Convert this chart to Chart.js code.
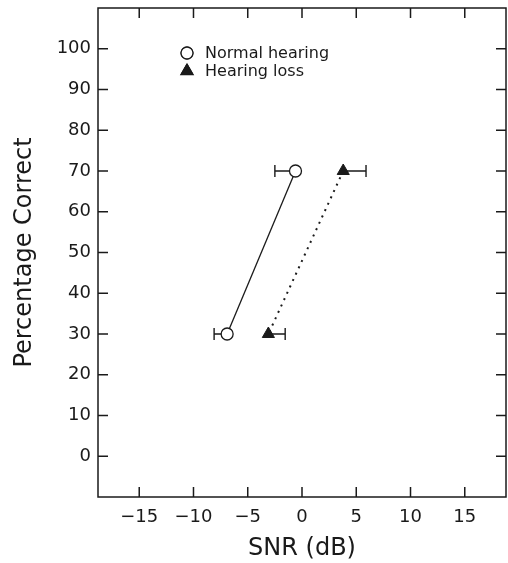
<!DOCTYPE html>
<html>
<head>
<meta charset="utf-8">
<script src="https://cdn.jsdelivr.net/npm/chart.js@4/dist/chart.umd.min.js"></script>
<style>
    html, body { margin: 0; padding: 0; background: #fff; }
    #chart { display: block; }
</style>
</head>
<body>
<canvas id="chart" width="508" height="563"></canvas>
<script>
    // values
    let seriesNames = ["Normal hearing", "Hearing loss"];
    let percentLevels = [70, 30];
    let normalSnr = [-0.6, -6.9];
    let lossSnr = [3.8, -3.1];
    // one-sided error bars: normal hearing goes left, hearing loss goes right
    let normalErrEnd = [-2.5, -8.1];
    let lossErrEnd = [5.9, -1.55];
    let xTicks = [-15, -10, -5, 0, 5, 10, 15];
    let yTicks = [0, 10, 20, 30, 40, 50, 60, 70, 80, 90, 100];

    let ink = "#1a1a1a";
    let fontFamily = "'DejaVu Sans', sans-serif";

    let toPoints = (xs, ys) => xs.map((x, i) => ({ x: x, y: ys[i] }));
    let minus = v => (v < 0 ? "\u2212" + Math.abs(v) : "" + v);

    // inward ticks on all four sides plus the frame
    let framePlugin = {
        id: "frame",
        afterDraw: chart => {
            let ctx = chart.ctx;
            let a = chart.chartArea;
            let len = 10;
            ctx.save();
            ctx.strokeStyle = ink;
            ctx.lineWidth = 1.5;
            ctx.beginPath();
            xTicks.forEach(v => {
                let px = chart.scales.x.getPixelForValue(v);
                ctx.moveTo(px, a.bottom); ctx.lineTo(px, a.bottom - len);
                ctx.moveTo(px, a.top); ctx.lineTo(px, a.top + len);
            });
            yTicks.forEach(v => {
                let py = chart.scales.y.getPixelForValue(v);
                ctx.moveTo(a.left, py); ctx.lineTo(a.left + len, py);
                ctx.moveTo(a.right, py); ctx.lineTo(a.right - len, py);
            });
            ctx.stroke();
            ctx.strokeRect(a.left, a.top, a.right - a.left, a.bottom - a.top);
            ctx.restore();
        }
    };

    let errorBarPlugin = {
        id: "errorBars",
        beforeDatasetsDraw: chart => {
            let ctx = chart.ctx;
            let xs = chart.scales.x, ys = chart.scales.y;
            let cap = 6;
            let draw = (centers, ends) => {
                centers.forEach((c, i) => {
                    let py = ys.getPixelForValue(percentLevels[i]);
                    let x0 = xs.getPixelForValue(c);
                    let x1 = xs.getPixelForValue(ends[i]);
                    ctx.moveTo(x0, py); ctx.lineTo(x1, py);
                    ctx.moveTo(x1, py - cap); ctx.lineTo(x1, py + cap);
                });
            };
            ctx.save();
            ctx.strokeStyle = ink;
            ctx.lineWidth = 1.4;
            ctx.beginPath();
            draw(normalSnr, normalErrEnd);
            draw(lossSnr, lossErrEnd);
            ctx.stroke();
            ctx.restore();
        }
    };

    // small key placed inside the plot, upper left
    let keyPlugin = {
        id: "key",
        afterDraw: chart => {
            let ctx = chart.ctx;
            let a = chart.chartArea;
            let mx = a.left + 89, tx = a.left + 107, y0 = a.top + 45, gap = 18;
            ctx.save();
            ctx.font = "16px " + fontFamily;
            ctx.textBaseline = "middle";
            ctx.fillStyle = ink;
            chart.data.datasets.forEach((ds, i) => {
                let y = y0 + i * gap;
                Chart.helpers.drawPoint(ctx, {
                    pointStyle: ds.pointStyle,
                    radius: ds.pointRadius,
                    borderWidth: ds.pointBorderWidth,
                    rotation: 0
                }, mx, y);
                ctx.fillStyle = ds.pointBackgroundColor;
                ctx.strokeStyle = ink;
                ctx.lineWidth = ds.pointBorderWidth;
                ctx.fill();
                ctx.stroke();
                ctx.fillStyle = ink;
                ctx.fillText(ds.label, tx, y + 1);
            });
            ctx.restore();
        }
    };

    let chart = new Chart("chart", {
        type: "scatter",
        data: {
            datasets: [{
                label: seriesNames[0],
                data: toPoints(normalSnr, percentLevels),
                showLine: true,
                borderColor: ink,
                borderWidth: 1.3,
                pointStyle: "circle",
                pointRadius: 6,
                pointHoverRadius: 6,
                pointBorderWidth: 1.3,
                pointBorderColor: ink,
                pointBackgroundColor: "#fff"
            }, {
                label: seriesNames[1],
                data: toPoints(lossSnr, percentLevels),
                showLine: true,
                borderColor: ink,
                borderWidth: 2,
                borderDash: [2, 5],
                pointStyle: "triangle",
                pointRadius: 7,
                pointHoverRadius: 7,
                pointBorderWidth: 1,
                pointBorderColor: ink,
                pointBackgroundColor: ink
            }]
        },
        options: {
            responsive: false,
            animation: false,
            layout: { autoPadding: false, padding: { top: 8, right: 2, left: 0, bottom: 0 } },
            plugins: {
                legend: { display: false },
                tooltip: { enabled: false }
            },
            scales: {
                x: {
                    type: "linear",
                    min: -18.8,
                    max: 18.8,
                    afterFit: s => { s.height = 66; s.paddingLeft = 0; s.paddingRight = 0; },
                    afterBuildTicks: s => { s.ticks = xTicks.map(v => ({ value: v })); },
                    grid: { display: false, drawTicks: false },
                    border: { display: false },
                    ticks: {
                        padding: 10,
                        color: ink,
                        font: { family: fontFamily, size: 18 },
                        callback: v => minus(v)
                    },
                    title: {
                        display: true,
                        text: "SNR (dB)",
                        color: ink,
                        padding: { top: 0, bottom: 0 },
                        font: { family: fontFamily, size: 24 }
                    }
                },
                y: {
                    type: "linear",
                    min: -10,
                    max: 110,
                    afterFit: s => { s.width = 98; s.paddingTop = 0; s.paddingBottom = 0; },
                    afterBuildTicks: s => { s.ticks = yTicks.map(v => ({ value: v })); },
                    grid: { display: false, drawTicks: false },
                    border: { display: false },
                    ticks: {
                        padding: 7,
                        color: ink,
                        font: { family: fontFamily, size: 18 },
                        callback: v => minus(v)
                    },
                    title: {
                        display: true,
                        text: "Percentage Correct",
                        color: ink,
                        padding: { top: 10, bottom: 0 },
                        font: { family: fontFamily, size: 24 }
                    }
                }
            }
        },
        plugins: [errorBarPlugin, framePlugin, keyPlugin]
    });
</script>
</body>
</html>
